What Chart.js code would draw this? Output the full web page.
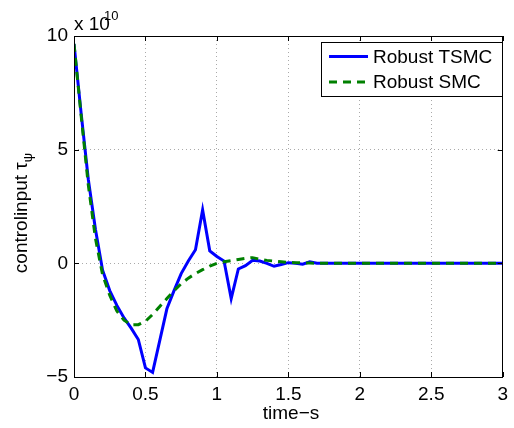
<!DOCTYPE html>
<html>
<head>
<meta charset="utf-8">
<script src="https://cdn.jsdelivr.net/npm/chart.js@4/dist/chart.umd.min.js"></script>
<style>
    html, body { margin: 0; padding: 0; background: #fff; }
    #wrap { width: 514px; height: 428px; position: relative; }
</style>
</head>
<body>
<div id="wrap"><canvas id="chart"></canvas></div>
<script>
// time axis (s) and control input values, in units of 1e10
const time = [0, 0.05, 0.1, 0.15, 0.2, 0.25, 0.3, 0.35, 0.4, 0.45, 0.5, 0.55, 0.6, 0.65, 0.7, 0.75,
    0.8, 0.85, 0.9, 0.95, 1.0, 1.05, 1.1, 1.15, 1.2, 1.25, 1.3, 1.35, 1.4, 1.45, 1.5, 1.55, 1.6,
    1.65, 1.7, 1.75, 3.0];
const robustTSMC = [9.65, 6.6, 3.7, 1.5, -0.3, -1.2, -1.85, -2.4, -2.85, -3.35, -4.6, -4.8, -3.4, -2.0, -1.2, -0.45,
    0.1, 0.6, 2.35, 0.55, 0.3, 0.1, -1.55, -0.25, -0.1, 0.13, 0.1, 0.0, -0.13, -0.05, 0.03, 0.0, -0.04,
    0.07, 0.0, 0.0, 0.0];
const robustSMC = [9.65, 6.5, 3.45, 1.1, -0.5, -1.4, -2.1, -2.5, -2.7, -2.7, -2.55, -2.25, -1.9, -1.55, -1.2, -0.9,
    -0.65, -0.45, -0.28, -0.12, 0.0, 0.07, 0.12, 0.17, 0.22, 0.25, 0.18, 0.13, 0.1, 0.07, 0.04, 0.03, 0.02,
    0.01, 0.0, 0.0, 0.0];
const xTicks = [0, 0.5, 1, 1.5, 2, 2.5, 3];
const yTicks = [-5, 0, 5, 10];
const seriesNames = ['Robust TSMC', 'Robust SMC'];

const FONT = "'Liberation Sans', Arial, sans-serif";

const toPoints = (vals) => time.map((t, i) => ({ x: t, y: vals[i] }));

// box, inward ticks, legend and axis titles, drawn the matlab way
const decorations = {
    id: 'decorations',
    afterDraw(chart) {
        const ctx = chart.ctx;
        const a = chart.chartArea;
        const xs = chart.scales.x;
        const ys = chart.scales.y;
        ctx.save();

        ctx.strokeStyle = '#000';
        ctx.lineWidth = 1;
        ctx.beginPath();
        xTicks.forEach(v => {
            const px = Math.round(xs.getPixelForValue(v)) + 0.5;
            ctx.moveTo(px, a.bottom); ctx.lineTo(px, a.bottom - 5);
            ctx.moveTo(px, a.top); ctx.lineTo(px, a.top + 5);
        });
        yTicks.forEach(v => {
            const py = Math.round(ys.getPixelForValue(v)) + 0.5;
            ctx.moveTo(a.left, py); ctx.lineTo(a.left + 5, py);
            ctx.moveTo(a.right, py); ctx.lineTo(a.right - 5, py);
        });
        ctx.stroke();
        ctx.strokeRect(Math.round(a.left) + 0.5, Math.round(a.top) + 0.5,
            Math.round(a.right - a.left) - 1, Math.round(a.bottom - a.top));

        // legend
        const lx = 321.5, ly = 42.5, lw = 181, lh = 54;
        ctx.fillStyle = '#fff';
        ctx.fillRect(lx, ly, lw, lh);
        ctx.strokeRect(lx, ly, lw, lh);
        const rows = [56.5, 82];
        chart.data.datasets.forEach((ds, i) => {
            ctx.strokeStyle = ds.borderColor;
            ctx.lineWidth = 3;
            ctx.setLineDash(ds.borderDash || []);
            ctx.beginPath();
            ctx.moveTo(329, rows[i]);
            ctx.lineTo(368, rows[i]);
            ctx.stroke();
            ctx.setLineDash([]);
            ctx.fillStyle = '#000';
            ctx.font = '19px ' + FONT;
            ctx.textAlign = 'left';
            ctx.textBaseline = 'middle';
            ctx.fillText(seriesNames[i], 373, rows[i] + 1);
        });

        // x axis title
        ctx.fillStyle = '#000';
        ctx.font = '19px ' + FONT;
        ctx.textAlign = 'center';
        ctx.textBaseline = 'alphabetic';
        ctx.fillText('time\u2212s', 291, 419);

        // exponent
        ctx.textAlign = 'left';
        ctx.fillText('x 10', 74, 30);
        ctx.font = '13px ' + FONT;
        ctx.fillText('10', 104, 20);

        // y axis title with subscript
        ctx.translate(27, 213);
        ctx.rotate(-Math.PI / 2);
        ctx.font = '19px ' + FONT;
        const main = 'controlinput \u03c4';
        const w1 = ctx.measureText(main).width;
        ctx.font = '13px ' + FONT;
        const w2 = ctx.measureText('\u03c8').width;
        const start = -(w1 + w2) / 2;
        ctx.font = '19px ' + FONT;
        ctx.fillText(main, start, 0);
        ctx.font = '13px ' + FONT;
        ctx.fillText('\u03c8', start + w1, 5);
        ctx.restore();
    }
};

new Chart(document.getElementById('chart'), {
    type: 'line',
    data: {
        datasets: [
            {
                label: seriesNames[0],
                data: toPoints(robustTSMC),
                borderColor: '#0000ff',
                borderWidth: 3,
                pointRadius: 0,
                tension: 0,
                order: 1
            },
            {
                label: seriesNames[1],
                data: toPoints(robustSMC),
                borderColor: '#008000',
                borderWidth: 3,
                borderDash: [8, 6],
                pointRadius: 0,
                tension: 0,
                order: 0
            }
        ]
    },
    options: {
        responsive: true,
        maintainAspectRatio: false,
        animation: false,
        layout: { padding: { top: 36, right: 6, bottom: 0, left: 0 } },
        scales: {
            x: {
                type: 'linear',
                min: 0,
                max: 3,
                afterBuildTicks: (s) => { s.ticks = xTicks.map(v => ({ value: v })); },
                afterFit: (s) => { s.height = 51; },
                grid: { color: '#aaa', drawTicks: false },
                border: { display: false, dash: [1, 3] },
                ticks: {
                    color: '#000',
                    font: { family: FONT, size: 19 },
                    padding: 6,
                    maxRotation: 0,
                    autoSkip: false,
                    callback: (v) => String(v)
                }
            },
            y: {
                min: -5,
                max: 10,
                afterBuildTicks: (s) => { s.ticks = yTicks.map(v => ({ value: v })); },
                afterFit: (s) => { s.width = 74; },
                grid: { color: '#aaa', drawTicks: false },
                border: { display: false, dash: [1, 3] },
                ticks: {
                    color: '#000',
                    font: { family: FONT, size: 19 },
                    padding: 6,
                    callback: (v) => String(v).replace('-', '\u2212')
                }
            }
        },
        plugins: {
            legend: { display: false },
            tooltip: { enabled: false }
        }
    },
    plugins: [decorations]
});
</script>
</body>
</html>
